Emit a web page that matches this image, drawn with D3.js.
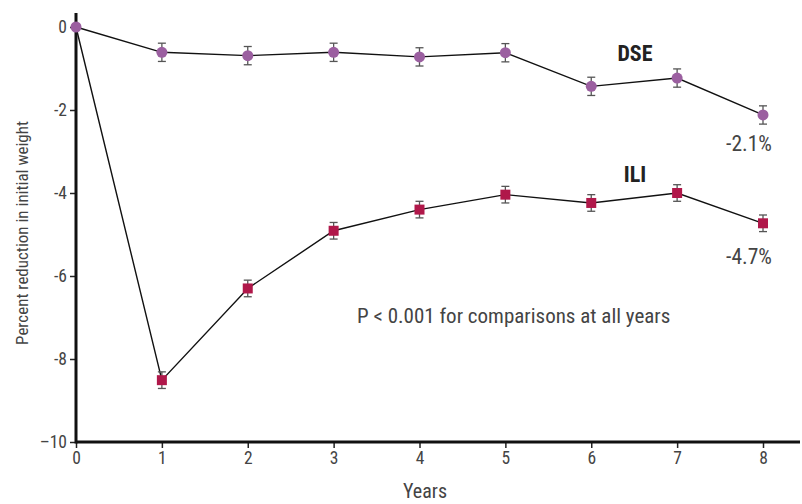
<!DOCTYPE html>
<html><head><meta charset="utf-8">
<script src="https://cdn.jsdelivr.net/npm/d3@7"></script>
<style>
body{margin:0;background:#fff;}
svg text{font-family:"Liberation Sans Narrow","Roboto Condensed","DejaVu Sans Condensed",sans-serif;}
</style></head>
<body><svg id="c" width="802" height="504"></svg>
<script>
const years = [0,1,2,3,4,5,6,7,8];
const dse = [0,-0.61,-0.69,-0.61,-0.72,-0.62,-1.43,-1.23,-2.12];
const dseErr = [0,0.22,0.22,0.22,0.22,0.22,0.22,0.22,0.22];
const ili = [0,-8.51,-6.30,-4.91,-4.40,-4.04,-4.24,-4.00,-4.73];
const iliErr = [0,0.2,0.2,0.2,0.2,0.2,0.2,0.2,0.2];
const yTicks = [0,-2,-4,-6,-8,-10];
const yTickLabels = ["0","-2","-4","-6","-8","\u201310"];
const xTicks = [0,1,2,3,4,5,6,7,8];

const svg = d3.select("#c");
const x = d3.scaleLinear().domain([0,8]).range([76,763]);
const y = d3.scaleLinear().domain([0,-10]).range([27,442]);

// axes
const xAxis = svg.append("g").attr("transform","translate(0,442)")
  .call(d3.axisBottom(x).tickValues(xTicks).tickSize(6).tickPadding(4).tickFormat(d3.format("d")));
xAxis.select(".domain").remove();
xAxis.selectAll(".tick line").attr("stroke","#222").attr("stroke-width",1.5);
xAxis.selectAll(".tick text").attr("fill","#444").style("font-size","17.5px");
svg.append("line").attr("x1",76).attr("x2",800).attr("y1",442).attr("y2",442).attr("stroke","#111").attr("stroke-width",3);

const yAxis = svg.append("g").attr("transform","translate(76,0)")
  .call(d3.axisLeft(y).tickValues(yTicks).tickSize(6).tickPadding(3).tickFormat((d,i)=>yTickLabels[i]));
yAxis.select(".domain").remove();
yAxis.selectAll(".tick line").attr("stroke","#222").attr("stroke-width",1.5);
yAxis.selectAll(".tick text").attr("fill","#444").style("font-size","17.5px");
svg.append("line").attr("x1",76).attr("x2",76).attr("y1",13).attr("y2",443.5).attr("stroke","#111").attr("stroke-width",3);

// lines
const line = d3.line().x((d,i)=>x(years[i])).y(d=>y(d));
svg.append("path").attr("d",line(dse)).attr("fill","none").attr("stroke","#111").attr("stroke-width",1.4);
svg.append("path").attr("d",line(ili)).attr("fill","none").attr("stroke","#111").attr("stroke-width",1.4);

function errBars(vals, errs){
  const g = svg.append("g").attr("stroke","#555").attr("stroke-width",1.3);
  vals.forEach((v,i)=>{
    if(!errs[i]) return;
    const cx = x(years[i]), y1 = y(v+errs[i]), y2 = y(v-errs[i]);
    g.append("line").attr("x1",cx).attr("x2",cx).attr("y1",y1).attr("y2",y2);
    g.append("line").attr("x1",cx-4).attr("x2",cx+4).attr("y1",y1).attr("y2",y1);
    g.append("line").attr("x1",cx-4).attr("x2",cx+4).attr("y1",y2).attr("y2",y2);
  });
}
errBars(dse, dseErr);
errBars(ili, iliErr);

svg.append("g").selectAll("rect").data(ili.slice(1)).join("rect")
  .attr("x",(d,i)=>x(years[i+1])-5).attr("y",d=>y(d)-5).attr("width",10).attr("height",10)
  .attr("fill","#b0184a");
svg.append("g").selectAll("circle").data(dse).join("circle")
  .attr("cx",(d,i)=>x(years[i])).attr("cy",d=>y(d)).attr("r",5.5).attr("fill","#9b5fa0");

// labels
svg.append("text").attr("x",635).attr("y",61).attr("text-anchor","middle").attr("font-size",22).attr("font-weight","bold").attr("fill","#222").text("DSE");
svg.append("text").attr("x",635).attr("y",182).attr("text-anchor","middle").attr("font-size",22).attr("font-weight","bold").attr("fill","#222").text("ILI");
svg.append("text").attr("x",749).attr("y",151).attr("text-anchor","middle").attr("font-size",21.5).attr("fill","#444").text("-2.1%");
svg.append("text").attr("x",749).attr("y",264).attr("text-anchor","middle").attr("font-size",21.5).attr("fill","#444").text("-4.7%");
svg.append("text").attr("x",357).attr("y",323).attr("font-size",21).attr("fill","#444").text("P < 0.001 for comparisons at all years");

svg.append("text").attr("transform","translate(28,233) rotate(-90)").attr("text-anchor","middle").attr("font-size",17).attr("fill","#444").text("Percent reduction in initial weight");
svg.append("text").attr("x",425).attr("y",498).attr("text-anchor","middle").attr("font-size",20).attr("fill","#444").text("Years");
</script></body></html>
